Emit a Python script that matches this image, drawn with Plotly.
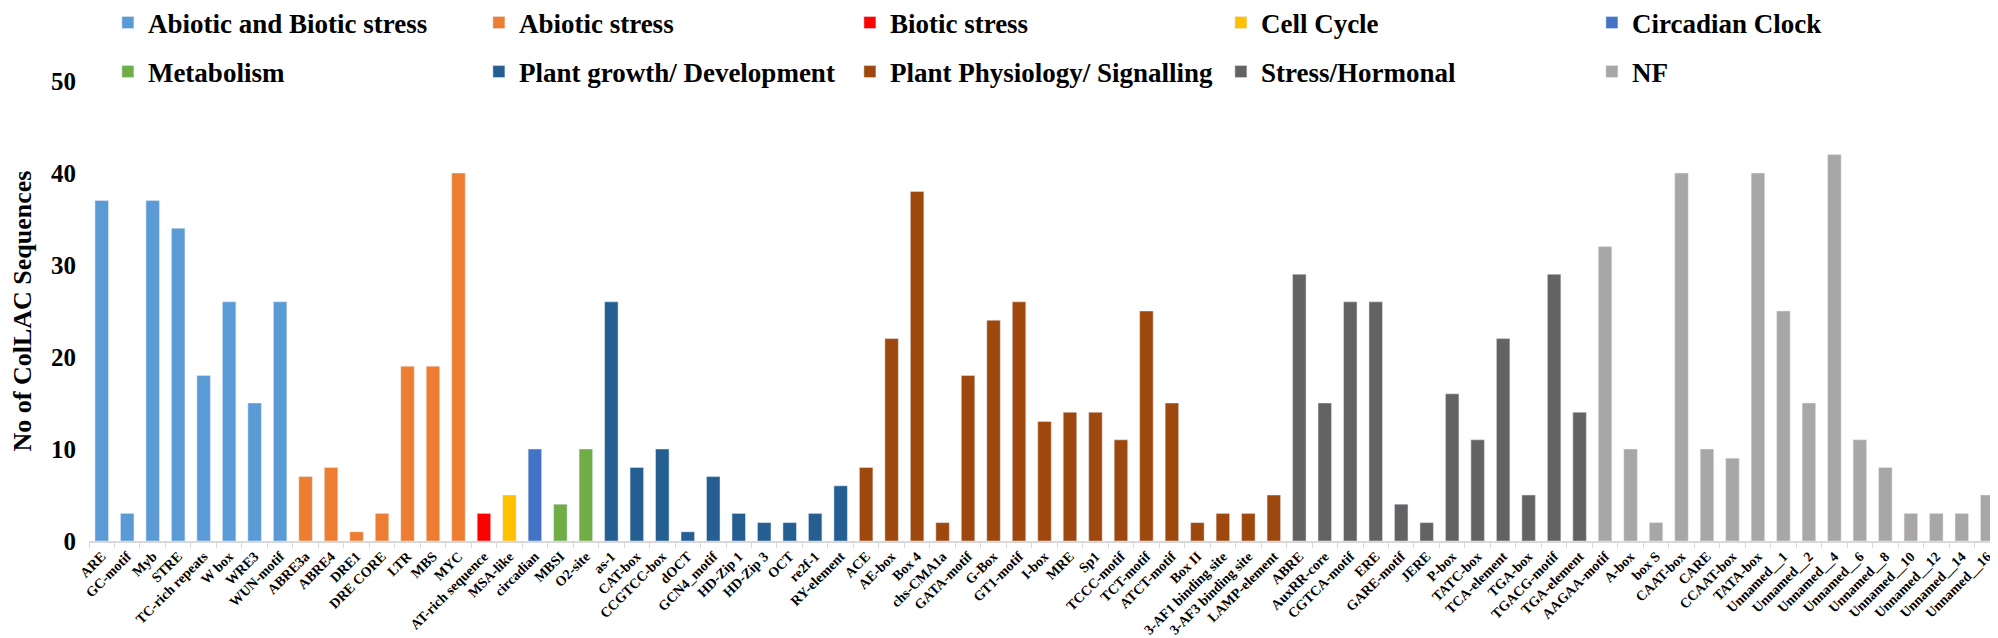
import plotly.graph_objects as go

# categories and counts, grouped by function
abiotic_biotic = ['ARE', 'GC-motif', 'Myb', 'STRE', 'TC-rich repeats', 'W box', 'WRE3', 'WUN-motif']
abiotic_biotic_n = [37, 3, 37, 34, 18, 26, 15, 26]

abiotic = ['ABRE3a', 'ABRE4', 'DRE1', 'DRE CORE', 'LTR', 'MBS', 'MYC']
abiotic_n = [7, 8, 1, 3, 19, 19, 40]

biotic = ['AT-rich sequence']
biotic_n = [3]

cell_cycle = ['MSA-like']
cell_cycle_n = [5]

circadian = ['circadian']
circadian_n = [10]

metabolism = ['MBSI', 'O2-site']
metabolism_n = [4, 10]

growth = ['as-1', 'CAT-box', 'CCGTCC-box', 'dOCT', 'GCN4_motif', 'HD-Zip 1', 'HD-Zip 3',
          'OCT', 're2f-1', 'RY-element']
growth_n = [26, 8, 10, 1, 7, 3, 2, 2, 3, 6]

physiology = ['ACE', 'AE-box', 'Box 4', 'chs-CMA1a', 'GATA-motif', 'G-Box', 'GT1-motif', 'I-box',
              'MRE', 'Sp1', 'TCCC-motif', 'TCT-motif', 'ATCT-motif', 'Box II',
              '3-AF1 binding site', '3-AF3 binding site', 'LAMP-element']
physiology_n = [8, 22, 38, 2, 18, 24, 26, 13, 14, 14, 11, 25, 15, 2, 3, 3, 5]

hormonal = ['ABRE', 'AuxRR-core', 'CGTCA-motif', 'ERE', 'GARE-motif', 'JERE', 'P-box',
            'TATC-box', 'TCA-element', 'TGA-box', 'TGACG-motif', 'TGA-element']
hormonal_n = [29, 15, 26, 26, 4, 2, 16, 11, 22, 5, 29, 14]

nf = ['AAGAA-motif', 'A-box', 'box S', 'CAAT-box', 'CARE', 'CCAAT-box', 'TATA-box',
      'Unnamed__1', 'Unnamed__2', 'Unnamed__4', 'Unnamed__6', 'Unnamed__8',
      'Unnamed__10', 'Unnamed__12', 'Unnamed__14', 'Unnamed__16']
nf_n = [32, 10, 2, 40, 10, 9, 40, 25, 15, 42, 11, 8, 3, 3, 3, 5]

groups = [
    ('Abiotic and Biotic stress', abiotic_biotic, abiotic_biotic_n, '#5B9BD5'),
    ('Abiotic stress', abiotic, abiotic_n, '#ED7D31'),
    ('Biotic stress', biotic, biotic_n, '#FF0000'),
    ('Cell Cycle', cell_cycle, cell_cycle_n, '#FFC000'),
    ('Circadian Clock', circadian, circadian_n, '#4472C4'),
    ('Metabolism', metabolism, metabolism_n, '#70AD47'),
    ('Plant growth/ Development', growth, growth_n, '#255E91'),
    ('Plant Physiology/ Signalling', physiology, physiology_n, '#9E480E'),
    ('Stress/Hormonal', hormonal, hormonal_n, '#636363'),
    ('NF', nf, nf_n, '#A8A6A6'),
]

serif = 'Liberation Serif'

fig = go.Figure()
order = []
for i, (name, cats, vals, col) in enumerate(groups):
    order += cats
    fig.add_trace(go.Bar(x=cats, y=vals, name=name, marker_color=col,
                         legend='legend' if i < 5 else 'legend2'))

# two one-row legends so the rows sit where the original has them
leg = dict(orientation='h', xref='container', yref='container', x=0.05,
           xanchor='left', yanchor='middle', entrywidth=326,
           font=dict(family=serif, size=27, color='black', weight='bold'),
           bgcolor='rgba(0,0,0,0)', itemclick=False)

fig.update_layout(
    width=1998, height=638,
    paper_bgcolor='white', plot_bgcolor='white',
    margin=dict(l=81, r=6, t=73, b=105, autoexpand=False),
    barmode='relative', bargap=0.47,
    showlegend=True,
    legend=dict(leg, y=1 - 15 / 638),
    legend2=dict(leg, y=1 - 64 / 638),
    font=dict(family=serif, color='black'),
)
fig.update_xaxes(
    type='category', categoryorder='array', categoryarray=order,
    tickangle=-45, tickfont=dict(family=serif, size=14, weight='bold'),
    showline=True, linecolor='#D9D9D9', linewidth=1.5,
    ticks='outside', tickson='boundaries', ticklen=5, tickcolor='#D9D9D9',
    showgrid=False,
)
fig.update_yaxes(
    range=[0, 50], dtick=10, showgrid=False, zeroline=False, showline=False,
    tickfont=dict(family=serif, size=25, weight='bold'), ticklabelstandoff=12,
    title=dict(text='No of ColLAC Sequences', standoff=12,
               font=dict(family=serif, size=26, weight='bold')),
)

fig.write_html("out.html")
